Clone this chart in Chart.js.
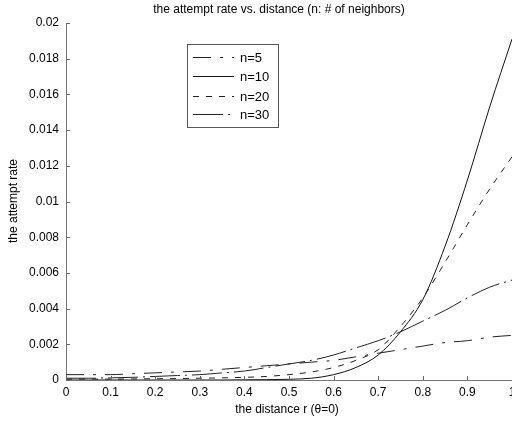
<!DOCTYPE html>
<html>
<head>
<meta charset="utf-8">
<script src="https://cdn.jsdelivr.net/npm/chart.js@4/dist/chart.umd.min.js"></script>
<style>
  html, body { margin: 0; padding: 0; background: #fff; }
  #wrap { width: 512px; height: 422px; }
</style>
</head>
<body>
<div id="wrap"><canvas id="c" width="512" height="422"></canvas></div>
<script>
// ---- data ----
const rValues = [0, 0.05, 0.1, 0.15, 0.2, 0.25, 0.3, 0.35, 0.4, 0.45, 0.5, 0.55, 0.6, 0.65, 0.7, 0.75, 0.8, 0.85, 0.9, 0.95, 1];
const n5  = [0.0003, 0.0003, 0.0003, 0.00035, 0.0004, 0.00045, 0.0005, 0.0006, 0.0007, 0.0008, 0.0009, 0.001, 0.0011, 0.0013, 0.0015, 0.0017, 0.0019, 0.0021, 0.0022, 0.0024, 0.0025];
const n10 = [0, 0, 0, 0, 0, 0, 0, 0, 0.00001, 0.00002, 0.00004, 0.0001, 0.0003, 0.0007, 0.0014, 0.0027, 0.0045, 0.0075, 0.0112, 0.0153, 0.0191];
const n20 = [0.00005, 0.00005, 0.00005, 0.00006, 0.00007, 0.00008, 0.0001, 0.00012, 0.00015, 0.0002, 0.0003, 0.00045, 0.0007, 0.0011, 0.0017, 0.003, 0.0046, 0.0066, 0.0087, 0.0107, 0.0125];
const n30 = [0.0001, 0.0001, 0.00012, 0.00015, 0.0002, 0.00025, 0.0003, 0.0004, 0.0005, 0.0007, 0.0009, 0.0011, 0.0014, 0.0018, 0.0022, 0.0027, 0.0033, 0.0039, 0.0046, 0.0052, 0.0056];
const seriesLabels = ['n=5', 'n=10', 'n=20', 'n=30'];
const xTickValues = [0, 0.1, 0.2, 0.3, 0.4, 0.5, 0.6, 0.7, 0.8, 0.9, 1];
const yTickValues = [0, 0.002, 0.004, 0.006, 0.008, 0.01, 0.012, 0.014, 0.016, 0.018, 0.02];
const chartTitle = 'the attempt rate vs. distance (n: # of neighbors)';
const xTitle = 'the distance r (\u03B8=0)';
const yTitle = 'the attempt rate';

const FONT = '"Liberation Sans", Arial, Helvetica, sans-serif';
const toPts = arr => arr.map((v, i) => ({ x: rValues[i], y: v }));
const styles = [
  { dash: [18, 9, 3, 9], color: '#222' },
  { dash: [], color: '#111' },
  { dash: [6, 7], color: '#222' },
  { dash: [30, 5, 2, 5], color: '#222' }
];
const seriesValues = [n5, n10, n20, n30];

const datasets = seriesLabels.map((lab, i) => ({
  label: lab,
  data: toPts(seriesValues[i]),
  borderColor: styles[i].color,
  borderDash: styles[i].dash,
  borderWidth: 1,
  pointRadius: 0,
  fill: false,
  cubicInterpolationMode: 'monotone'
}));

const decorPlugin = {
  id: 'decor',
  afterDraw(chart) {
    const ctx = chart.ctx;
    const a = chart.chartArea;
    const xs = chart.scales.x, ys = chart.scales.y;
    ctx.save();
    // inward tick marks
    ctx.strokeStyle = '#666';
    ctx.lineWidth = 1;
    ctx.beginPath();
    yTickValues.forEach(v => {
      const y = Math.round(ys.getPixelForValue(v)) + 0.5;
      ctx.moveTo(a.left, y); ctx.lineTo(a.left + 4, y);
    });
    xTickValues.forEach(v => {
      const x = Math.round(xs.getPixelForValue(v)) + 0.5;
      ctx.moveTo(x, a.bottom); ctx.lineTo(x, a.bottom - 4);
    });
    ctx.stroke();

    // titles
    ctx.fillStyle = '#000';
    ctx.textAlign = 'center';
    ctx.textBaseline = 'middle';
    ctx.font = '12px ' + FONT;
    ctx.fillText(chartTitle, 279, 10);
    ctx.fillText(xTitle, 287, 410);
    ctx.save();
    ctx.translate(14, 201);
    ctx.rotate(-Math.PI / 2);
    ctx.fillText(yTitle, 0, 0);
    ctx.restore();

    // legend
    const bx = 187.5, by = 44.5, bw = 91, bh = 83;
    ctx.fillStyle = '#fff';
    ctx.fillRect(bx, by, bw, bh);
    ctx.strokeStyle = '#555';
    ctx.setLineDash([]);
    ctx.strokeRect(bx, by, bw, bh);
    const rowsY = [57, 76, 96, 114];
    chart.data.datasets.forEach((ds, i) => {
      const y = rowsY[i] + 0.5;
      ctx.strokeStyle = ds.borderColor;
      ctx.setLineDash(ds.borderDash || []);
      ctx.beginPath();
      ctx.moveTo(193, y); ctx.lineTo(234, y);
      ctx.stroke();
      ctx.setLineDash([]);
      ctx.fillStyle = '#000';
      ctx.textAlign = 'left';
      ctx.font = '13px ' + FONT;
      ctx.fillText(ds.label, 240, rowsY[i] + 1);
    });
    ctx.restore();
  }
};

new Chart(document.getElementById('c'), {
  type: 'line',
  data: { datasets },
  options: {
    responsive: false,
    animation: false,
    devicePixelRatio: 1,
    layout: { padding: { left: 0, right: 0, top: 23, bottom: 0 } },
    plugins: { legend: { display: false }, title: { display: false }, tooltip: { enabled: false } },
    scales: {
      x: {
        type: 'linear', min: 0, max: 1,
        afterBuildTicks: s => { s.ticks = xTickValues.map(v => ({ value: v })); },
        afterFit: s => { s.height = 42; s.paddingLeft = 0; s.paddingRight = 0; },
        ticks: {
          padding: 5, color: '#000', maxRotation: 0, autoSkip: false,
          font: { family: FONT, size: 12 },
          callback: v => String(+Number(v).toFixed(1))
        },
        grid: { display: true, drawOnChartArea: false, drawTicks: false },
        border: { display: true, color: '#777', width: 1 }
      },
      y: {
        type: 'linear', min: 0, max: 0.02,
        afterBuildTicks: s => { s.ticks = yTickValues.map(v => ({ value: v })); },
        afterFit: s => { s.width = 66; s.paddingTop = 0; s.paddingBottom = 0; },
        ticks: {
          padding: 7, color: '#000', autoSkip: false,
          font: { family: FONT, size: 12 },
          callback: v => String(+Number(v).toFixed(3))
        },
        grid: { display: true, drawOnChartArea: false, drawTicks: false },
        border: { display: true, color: '#777', width: 1 }
      }
    }
  },
  plugins: [decorPlugin]
});
</script>
</body>
</html>
